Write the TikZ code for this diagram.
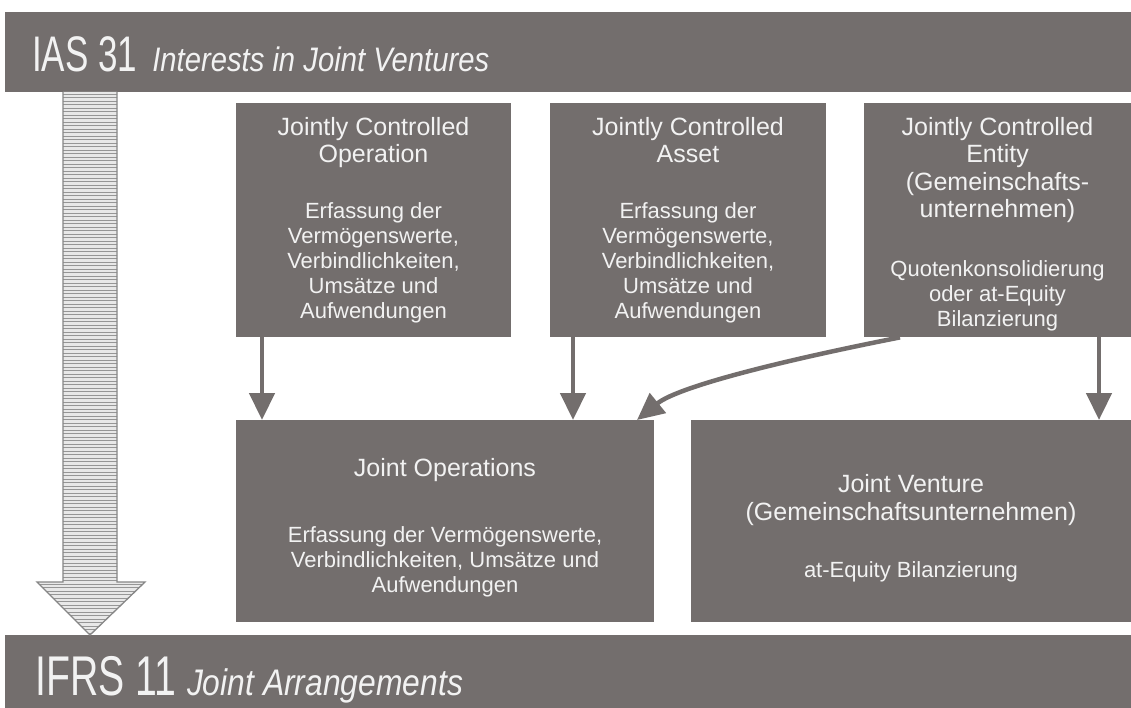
\documentclass[tikz,border=0pt]{standalone}
\usepackage{fontspec}
\setmainfont{Liberation Sans}
\newfontfamily\condf[FakeStretch=0.70]{Liberation Sans}
\newfontfamily\condi[FakeStretch=0.86]{Liberation Sans Italic}
\usetikzlibrary{arrows.meta,calc}
\definecolor{boxgray}{RGB}{115,110,109}
\definecolor{txtw}{RGB}{242,242,242}
\definecolor{stripe}{RGB}{150,150,150}
\definecolor{arrowfill}{RGB}{232,232,232}
\definecolor{arrowline}{RGB}{135,135,135}
\tikzset{
  box/.style={fill=boxgray, draw=none, inner sep=0pt, anchor=north west},
  hd/.style={text=txtw, align=center, font=\fontsize{25}{27.5}\selectfont, inner sep=0pt},
  bd/.style={text=txtw, align=center, font=\fontsize{22}{25}\selectfont, inner sep=0pt},
  conn/.style={draw=boxgray, line width=4.5pt, -{Triangle[length=27pt,width=25pt]}},
  bartext/.style={anchor=base west, text=txtw, inner sep=0pt},
}
\begin{document}
\begin{tikzpicture}[x=1pt,y=-1pt]
\useasboundingbox (0,0) rectangle (1131,708);
\fill[white] (0,0) rectangle (1131,708);

% bars
\node[box, minimum width=1126pt, minimum height=80pt] (hdr) at (5,12) {};
\node[box, minimum width=1126pt, minimum height=73pt] (ftr) at (5,635) {};
\node[bartext] (hdrtext) at (32,72) {{\condf\fontsize{50}{50}\selectfont IAS 31}\hspace{15pt}{\condi\fontsize{34}{34}\selectfont Interests in Joint Ventures}};
\node[bartext] (ftrtext) at (35,695) {{\condf\fontsize{56}{56}\selectfont IFRS 11}\hspace{11pt}{\condi\fontsize{37}{37}\selectfont Joint Arrangements}};

% big striped arrow
\begin{scope}
\clip (63,92) -- (117,92) -- (117,582) -- (145,582) -- (90,635) -- (37,582) -- (63,582) -- cycle;
\fill[arrowfill] (30,90) rectangle (150,640);
\foreach \yy in {94,97.5,...,636} \draw[stripe, line width=0.9pt] (30,\yy) -- (150,\yy);
\end{scope}
\draw[arrowline, line width=1.3pt, line join=miter] (63,92) -- (63,582) -- (37,582) -- (90,635) -- (145,582) -- (117,582) -- (117,92);

% upper boxes
\node[box, minimum width=275pt, minimum height=234pt] (b1) at (236,103) {};
\node[box, minimum width=276pt, minimum height=234pt] (b2) at (550,103) {};
\node[box, minimum width=267pt, minimum height=234pt] (b3) at (864,103) {};
% lower boxes
\node[box, minimum width=418pt, minimum height=202pt] (b4) at (236,420) {};
\node[box, minimum width=440pt, minimum height=202pt] (b5) at (691,420) {};

% texts
\node[hd, anchor=north] (h1) at (373.5,117) {Jointly Controlled\\Operation};
\node[bd] (t1) at (373.5,263) {Erfassung der\\Vermögenswerte,\\Verbindlichkeiten,\\Umsätze und\\Aufwendungen};
\node[hd, anchor=north] (h2) at (688,117) {Jointly Controlled\\Asset};
\node[bd] (t2) at (688,263) {Erfassung der\\Vermögenswerte,\\Verbindlichkeiten,\\Umsätze und\\Aufwendungen};
\node[hd, anchor=north] (h3) at (997.5,117) {Jointly Controlled\\Entity\\(Gemeinschafts-\\unternehmen)};
\node[bd] (t3) at (997.5,296) {Quotenkonsolidierung\\oder at-Equity\\Bilanzierung};
\node[hd] (h4) at (445,470) {Joint Operations};
\node[bd] (t4) at (445,562) {Erfassung der Vermögenswerte,\\Verbindlichkeiten, Umsätze und\\Aufwendungen};
\node[hd] (h5) at (911,500) {Joint Venture\\(Gemeinschaftsunternehmen)};
\node[bd] (t5) at (911,572) {at-Equity Bilanzierung};

% connectors
\coordinate (x1) at (262,0);
\coordinate (x2) at (573,0);
\coordinate (x3) at (1099,0);
\coordinate (x4) at (900,0);
\coordinate (x5) at (637,0);
\draw[conn] (b1.south -| x1) -- (b4.north -| x1);
\draw[conn] (b2.south -| x2) -- (b4.north -| x2);
\draw[conn] (b3.south -| x3) -- (b5.north -| x3);
\draw[conn] (b3.south -| x4) .. controls (800,357) and (680,385) .. (b4.north -| x5);
\end{tikzpicture}
\end{document}
